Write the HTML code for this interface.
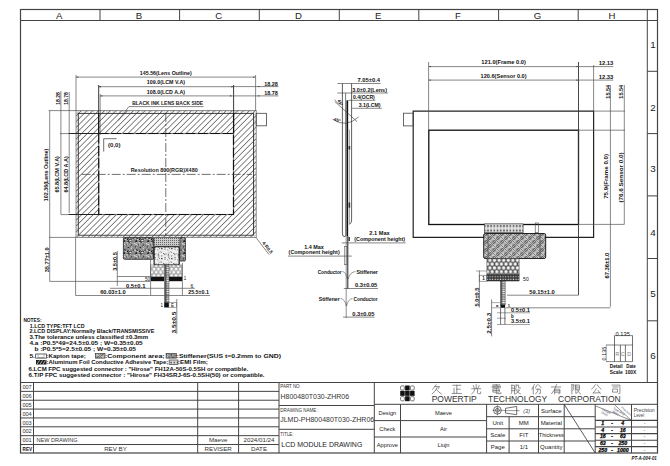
<!DOCTYPE html>
<html><head><meta charset="utf-8"><style>
html,body{margin:0;padding:0;background:#fff;}
svg{display:block;}
</style></head><body>
<svg width="670" height="466" viewBox="0 0 670 466">
<defs><pattern id="hatch" patternUnits="userSpaceOnUse" width="4.1" height="10" patternTransform="rotate(45)"><line x1="0.4" y1="0" x2="0.4" y2="10" stroke="#3a3a3a" stroke-width="0.68"/></pattern><pattern id="granite" patternUnits="userSpaceOnUse" width="12" height="12"><rect width="12" height="12" fill="#8a8a8a"/><rect x="2.9" y="6.5" width="1.0" height="0.9" fill="#1a1a1a"/><rect x="7.5" y="0.8" width="0.6" height="1.1" fill="#1a1a1a"/><rect x="3.1" y="2.8" width="1.8" height="0.8" fill="#1a1a1a"/><rect x="10.0" y="5.7" width="1.4" height="0.6" fill="#1a1a1a"/><rect x="7.6" y="10.4" width="1.2" height="1.0" fill="#1a1a1a"/><rect x="8.1" y="0.8" width="1.5" height="0.9" fill="#1a1a1a"/><rect x="3.6" y="0.4" width="1.6" height="0.8" fill="#1a1a1a"/><rect x="8.6" y="10.5" width="1.5" height="1.1" fill="#1a1a1a"/><rect x="4.7" y="9.6" width="1.1" height="1.2" fill="#1a1a1a"/><rect x="10.5" y="1.2" width="0.8" height="0.7" fill="#1a1a1a"/><rect x="11.6" y="5.2" width="1.4" height="0.7" fill="#1a1a1a"/><rect x="6.1" y="4.6" width="1.0" height="0.9" fill="#1a1a1a"/><rect x="7.0" y="10.9" width="1.4" height="1.2" fill="#1a1a1a"/><rect x="10.3" y="11.9" width="1.4" height="0.6" fill="#1a1a1a"/><rect x="10.3" y="11.6" width="1.7" height="0.9" fill="#1a1a1a"/><rect x="8.6" y="2.5" width="1.6" height="0.9" fill="#1a1a1a"/><rect x="3.4" y="0.8" width="1.6" height="1.2" fill="#1a1a1a"/><rect x="1.1" y="9.6" width="1.1" height="0.6" fill="#1a1a1a"/><rect x="3.5" y="9.2" width="1.6" height="0.5" fill="#1a1a1a"/><rect x="7.4" y="0.5" width="1.5" height="0.7" fill="#1a1a1a"/><rect x="10.6" y="11.8" width="1.2" height="1.2" fill="#1a1a1a"/><rect x="3.7" y="0.9" width="1.3" height="0.5" fill="#1a1a1a"/><rect x="2.4" y="4.9" width="1.3" height="0.6" fill="#1a1a1a"/><rect x="0.5" y="10.4" width="1.0" height="1.2" fill="#1a1a1a"/><rect x="10.8" y="4.5" width="1.2" height="0.9" fill="#1a1a1a"/><rect x="7.7" y="7.1" width="1.3" height="0.9" fill="#1a1a1a"/><rect x="11.3" y="6.1" width="0.9" height="0.8" fill="#e8e8e8"/><rect x="2.9" y="3.6" width="1.5" height="0.7" fill="#e8e8e8"/><rect x="6.6" y="0.1" width="0.9" height="0.7" fill="#e8e8e8"/><rect x="0.2" y="7.4" width="1.1" height="0.4" fill="#e8e8e8"/><rect x="7.5" y="5.6" width="1.2" height="0.6" fill="#e8e8e8"/><rect x="8.5" y="8.9" width="0.5" height="0.4" fill="#e8e8e8"/><rect x="8.1" y="11.6" width="0.8" height="0.7" fill="#e8e8e8"/><rect x="7.1" y="3.8" width="0.9" height="0.6" fill="#e8e8e8"/><rect x="4.4" y="7.1" width="0.8" height="0.6" fill="#e8e8e8"/><rect x="9.3" y="0.3" width="1.1" height="0.8" fill="#e8e8e8"/><rect x="3.7" y="2.7" width="1.3" height="0.5" fill="#e8e8e8"/><rect x="2.2" y="5.2" width="1.2" height="0.5" fill="#e8e8e8"/><rect x="3.9" y="4.0" width="1.3" height="0.7" fill="#e8e8e8"/><rect x="10.3" y="2.0" width="0.8" height="0.8" fill="#e8e8e8"/><rect x="10.6" y="5.4" width="0.7" height="0.5" fill="#e8e8e8"/><rect x="6.4" y="2.3" width="1.3" height="0.9" fill="#e8e8e8"/><rect x="2.2" y="3.3" width="1.3" height="0.8" fill="#e8e8e8"/><rect x="9.7" y="4.1" width="0.6" height="0.6" fill="#e8e8e8"/><rect x="9.5" y="3.3" width="0.8" height="0.7" fill="#e8e8e8"/><rect x="5.0" y="4.9" width="1.4" height="0.5" fill="#e8e8e8"/><rect x="0.1" y="11.3" width="1.4" height="1.0" fill="#e8e8e8"/><rect x="5.2" y="11.4" width="1.4" height="0.5" fill="#e8e8e8"/><rect x="8.9" y="10.0" width="1.2" height="0.7" fill="#e8e8e8"/><rect x="3.5" y="4.1" width="0.7" height="0.4" fill="#e8e8e8"/><rect x="7.1" y="3.4" width="1.3" height="0.4" fill="#e8e8e8"/><rect x="10.8" y="8.3" width="1.4" height="0.9" fill="#e8e8e8"/><rect x="10.8" y="6.9" width="0.5" height="0.8" fill="#e8e8e8"/><rect x="2.1" y="3.6" width="1.2" height="0.7" fill="#e8e8e8"/><rect x="5.0" y="11.3" width="1.1" height="0.6" fill="#e8e8e8"/><rect x="3.0" y="10.3" width="1.0" height="0.9" fill="#e8e8e8"/><rect x="4.2" y="2.4" width="1.0" height="0.9" fill="#e8e8e8"/><rect x="2.1" y="9.5" width="1.4" height="0.9" fill="#e8e8e8"/><rect x="9.9" y="0.1" width="1.1" height="0.9" fill="#e8e8e8"/><rect x="0.6" y="3.3" width="0.8" height="0.7" fill="#e8e8e8"/></pattern><pattern id="speck" patternUnits="userSpaceOnUse" width="10" height="10"><rect width="10" height="10" fill="#eee"/><rect x="4.2" y="4.7" width="1.3" height="0.4" fill="#333"/><rect x="0.5" y="1.3" width="0.6" height="0.4" fill="#333"/><rect x="9.7" y="8.5" width="0.6" height="0.7" fill="#333"/><rect x="3.2" y="3.1" width="0.9" height="0.8" fill="#333"/><rect x="5.9" y="3.6" width="0.7" height="0.6" fill="#333"/><rect x="1.2" y="5.6" width="1.2" height="0.6" fill="#333"/><rect x="0.8" y="1.8" width="0.9" height="0.8" fill="#333"/><rect x="7.8" y="3.8" width="1.3" height="0.8" fill="#333"/><rect x="4.3" y="3.7" width="1.0" height="0.8" fill="#333"/><rect x="4.2" y="6.9" width="1.0" height="0.5" fill="#333"/><rect x="5.4" y="7.0" width="0.6" height="0.7" fill="#333"/><rect x="4.3" y="8.8" width="1.4" height="0.6" fill="#333"/><rect x="9.0" y="7.9" width="0.8" height="0.7" fill="#333"/><rect x="1.2" y="8.1" width="1.2" height="0.9" fill="#333"/><rect x="7.9" y="6.7" width="1.2" height="0.7" fill="#333"/><rect x="1.0" y="5.9" width="0.5" height="0.5" fill="#333"/><rect x="7.7" y="0.4" width="0.6" height="0.5" fill="#333"/><rect x="8.8" y="1.8" width="0.5" height="0.9" fill="#333"/><rect x="1.2" y="8.4" width="1.2" height="0.9" fill="#333"/><rect x="9.5" y="5.8" width="1.3" height="0.4" fill="#333"/><rect x="7.7" y="5.1" width="1.2" height="0.5" fill="#333"/><rect x="7.5" y="9.3" width="0.6" height="0.6" fill="#333"/></pattern><pattern id="dots" patternUnits="userSpaceOnUse" width="2" height="2"><rect width="2" height="2" fill="#ccc"/><rect x="0" y="0" width="1" height="1" fill="#666"/></pattern><pattern id="honey" patternUnits="userSpaceOnUse" width="4.4" height="6.6"><rect width="4.4" height="6.6" fill="#b5b5b5"/><circle cx="2.2" cy="1.65" r="1.75" fill="#ffffff" stroke="#555" stroke-width="0.3"/><circle cx="0" cy="4.95" r="1.75" fill="#ffffff" stroke="#555" stroke-width="0.3"/><circle cx="4.4" cy="4.95" r="1.75" fill="#ffffff" stroke="#555" stroke-width="0.3"/></pattern><pattern id="honey2" patternUnits="userSpaceOnUse" width="4.6" height="7.6"><rect width="4.6" height="7.6" fill="#555"/><circle cx="2.3" cy="1.9" r="1.85" fill="#f6f6f6" stroke="#333" stroke-width="0.3"/><circle cx="0" cy="5.7" r="1.85" fill="#f6f6f6" stroke="#333" stroke-width="0.3"/><circle cx="4.6" cy="5.7" r="1.85" fill="#f6f6f6" stroke="#333" stroke-width="0.3"/></pattern><pattern id="chain" patternUnits="userSpaceOnUse" width="4.6" height="2.2"><rect width="4.6" height="2.2" fill="#555"/><rect x="0.9" y="0.45" width="2.8" height="1.3" fill="#f0f0f0"/></pattern><pattern id="finger" patternUnits="userSpaceOnUse" width="2.6" height="2.6"><rect width="2.6" height="2.6" fill="#333"/><rect x="0.6" y="0.6" width="1.3" height="1.1" fill="#ddd"/></pattern><pattern id="woven" patternUnits="userSpaceOnUse" width="8" height="8"><rect width="8" height="8" fill="#ababab"/><path d="M0,1.3 L2.7,4 M1.3,0 L4,2.7 M4,6.7 L5.3,8 M4,5.3 L6.7,8 M5.3,4 L8,6.7 M6.7,4 L8,5.3" stroke="#eaeaea" stroke-width="0.7" fill="none"/><path d="M4,2.7 L6.7,0 M5.3,4 L8,1.3 M0,6.7 L2.7,4 M1.3,8 L4,5.3 M0,4 L0,4" stroke="#2a2a2a" stroke-width="0.8" fill="none"/><path d="M0,0 L8,8" stroke="#444" stroke-width="0.4" fill="none"/></pattern><pattern id="conn" patternUnits="userSpaceOnUse" width="3.2" height="4.4"><rect width="3.2" height="4.4" fill="#e4e4e4"/><rect x="0.6" y="0.8" width="1.8" height="1.6" fill="#555"/><rect x="0.9" y="3" width="1.2" height="0.8" fill="#999"/></pattern></defs>
<rect width="670" height="466" fill="#fff"/>
<rect x="20.5" y="9.5" width="637" height="443.5" stroke="#444" stroke-width="1.2" fill="none" />
<line x1="20" y1="20.5" x2="658" y2="20.5" stroke="#444" stroke-width="1" />
<line x1="100" y1="9.5" x2="100" y2="20.5" stroke="#444" stroke-width="1" />
<line x1="179.6" y1="9.5" x2="179.6" y2="20.5" stroke="#444" stroke-width="1" />
<line x1="259.3" y1="9.5" x2="259.3" y2="20.5" stroke="#444" stroke-width="1" />
<line x1="339.3" y1="9.5" x2="339.3" y2="20.5" stroke="#444" stroke-width="1" />
<line x1="418.8" y1="9.5" x2="418.8" y2="20.5" stroke="#444" stroke-width="1" />
<line x1="498.6" y1="9.5" x2="498.6" y2="20.5" stroke="#444" stroke-width="1" />
<line x1="578.2" y1="9.5" x2="578.2" y2="20.5" stroke="#444" stroke-width="1" />
<line x1="647.3" y1="9.5" x2="647.3" y2="382.5" stroke="#444" stroke-width="1" />
<line x1="647.3" y1="71.3" x2="658" y2="71.3" stroke="#444" stroke-width="1" />
<line x1="647.3" y1="133.6" x2="658" y2="133.6" stroke="#444" stroke-width="1" />
<line x1="647.3" y1="195.9" x2="658" y2="195.9" stroke="#444" stroke-width="1" />
<line x1="647.3" y1="258.5" x2="658" y2="258.5" stroke="#444" stroke-width="1" />
<line x1="647.3" y1="320.8" x2="658" y2="320.8" stroke="#444" stroke-width="1" />
<text x="59.2" y="18.6" font-family="Liberation Sans" font-size="9.6" font-weight="normal" fill="#222" text-anchor="middle" >A</text>
<text x="139.0" y="18.6" font-family="Liberation Sans" font-size="9.6" font-weight="normal" fill="#222" text-anchor="middle" >B</text>
<text x="218.64999999999998" y="18.6" font-family="Liberation Sans" font-size="9.6" font-weight="normal" fill="#222" text-anchor="middle" >C</text>
<text x="298.5" y="18.6" font-family="Liberation Sans" font-size="9.6" font-weight="normal" fill="#222" text-anchor="middle" >D</text>
<text x="378.25" y="18.6" font-family="Liberation Sans" font-size="9.6" font-weight="normal" fill="#222" text-anchor="middle" >E</text>
<text x="457.90000000000003" y="18.6" font-family="Liberation Sans" font-size="9.6" font-weight="normal" fill="#222" text-anchor="middle" >F</text>
<text x="537.6000000000001" y="18.6" font-family="Liberation Sans" font-size="9.6" font-weight="normal" fill="#222" text-anchor="middle" >G</text>
<text x="611.95" y="18.6" font-family="Liberation Sans" font-size="9.6" font-weight="normal" fill="#222" text-anchor="middle" >H</text>
<text x="653" y="48.3" font-family="Liberation Sans" font-size="9.8" font-weight="normal" fill="#222" text-anchor="middle" >1</text>
<text x="653" y="110.8" font-family="Liberation Sans" font-size="9.8" font-weight="normal" fill="#222" text-anchor="middle" >2</text>
<text x="653" y="172.4" font-family="Liberation Sans" font-size="9.8" font-weight="normal" fill="#222" text-anchor="middle" >3</text>
<text x="653" y="236.4" font-family="Liberation Sans" font-size="9.8" font-weight="normal" fill="#222" text-anchor="middle" >4</text>
<text x="653" y="296.5" font-family="Liberation Sans" font-size="9.8" font-weight="normal" fill="#222" text-anchor="middle" >5</text>
<text x="653" y="358.7" font-family="Liberation Sans" font-size="9.8" font-weight="normal" fill="#222" text-anchor="middle" >6</text>
<line x1="20" y1="382.5" x2="658" y2="382.5" stroke="#444" stroke-width="1.1" />
<line x1="20" y1="391.36" x2="279" y2="391.36" stroke="#444" stroke-width="1" />
<line x1="20" y1="400.22" x2="279" y2="400.22" stroke="#444" stroke-width="1" />
<line x1="20" y1="409.08" x2="279" y2="409.08" stroke="#444" stroke-width="1" />
<line x1="20" y1="417.94" x2="279" y2="417.94" stroke="#444" stroke-width="1" />
<line x1="20" y1="426.8" x2="279" y2="426.8" stroke="#444" stroke-width="1" />
<line x1="20" y1="435.65999999999997" x2="279" y2="435.65999999999997" stroke="#444" stroke-width="1" />
<line x1="20" y1="444.52" x2="279" y2="444.52" stroke="#444" stroke-width="1" />
<line x1="33.5" y1="382.5" x2="33.5" y2="453" stroke="#444" stroke-width="1" />
<line x1="197.7" y1="382.5" x2="197.7" y2="453" stroke="#444" stroke-width="1" />
<line x1="238.6" y1="382.5" x2="238.6" y2="453" stroke="#444" stroke-width="1" />
<line x1="279" y1="382.5" x2="279" y2="453" stroke="#444" stroke-width="1" />
<text x="22.4" y="389.1" font-family="Liberation Sans" font-size="6.2" font-weight="normal" fill="#333" text-anchor="start" textLength="9.3" lengthAdjust="spacingAndGlyphs" >007</text>
<text x="22.4" y="397.96000000000004" font-family="Liberation Sans" font-size="6.2" font-weight="normal" fill="#333" text-anchor="start" textLength="9.3" lengthAdjust="spacingAndGlyphs" >006</text>
<text x="22.4" y="406.82000000000005" font-family="Liberation Sans" font-size="6.2" font-weight="normal" fill="#333" text-anchor="start" textLength="9.3" lengthAdjust="spacingAndGlyphs" >005</text>
<text x="22.4" y="415.68" font-family="Liberation Sans" font-size="6.2" font-weight="normal" fill="#333" text-anchor="start" textLength="9.3" lengthAdjust="spacingAndGlyphs" >004</text>
<text x="22.4" y="424.54" font-family="Liberation Sans" font-size="6.2" font-weight="normal" fill="#333" text-anchor="start" textLength="9.3" lengthAdjust="spacingAndGlyphs" >003</text>
<text x="22.4" y="433.40000000000003" font-family="Liberation Sans" font-size="6.2" font-weight="normal" fill="#333" text-anchor="start" textLength="9.3" lengthAdjust="spacingAndGlyphs" >002</text>
<text x="22.4" y="442.26" font-family="Liberation Sans" font-size="6.2" font-weight="normal" fill="#333" text-anchor="start" textLength="9.3" lengthAdjust="spacingAndGlyphs" >001</text>
<text x="22.6" y="451.12" font-family="Liberation Sans" font-size="6" font-weight="bold" fill="#111" text-anchor="start" textLength="9.5" lengthAdjust="spacingAndGlyphs" >REV</text>
<text x="36.5" y="442.26" font-family="Liberation Sans" font-size="6.2" font-weight="normal" fill="#333" text-anchor="start" textLength="41" lengthAdjust="spacingAndGlyphs" >NEW DRAWING</text>
<text x="218.2" y="442.26" font-family="Liberation Sans" font-size="6.2" font-weight="normal" fill="#333" text-anchor="middle" >Maeve</text>
<text x="259" y="442.26" font-family="Liberation Sans" font-size="6.2" font-weight="normal" fill="#333" text-anchor="middle" >2024/01/24</text>
<text x="115.5" y="451.12" font-family="Liberation Sans" font-size="6.2" font-weight="normal" fill="#333" text-anchor="middle" >REV BY</text>
<text x="218.2" y="451.12" font-family="Liberation Sans" font-size="6.2" font-weight="normal" fill="#333" text-anchor="middle" >REVISER</text>
<text x="259" y="451.12" font-family="Liberation Sans" font-size="6.2" font-weight="normal" fill="#333" text-anchor="middle" >DATE</text>
<line x1="374.3" y1="382.5" x2="374.3" y2="453" stroke="#444" stroke-width="1" />
<line x1="279" y1="405.5" x2="374.3" y2="405.5" stroke="#444" stroke-width="1" />
<line x1="279" y1="429.3" x2="374.3" y2="429.3" stroke="#444" stroke-width="1" />
<text x="280.3" y="387.9" font-family="Liberation Sans" font-size="4.8" font-weight="normal" fill="#333" text-anchor="start" textLength="20.5" lengthAdjust="spacingAndGlyphs" >PART NO:</text>
<text x="280.6" y="399" font-family="Liberation Sans" font-size="7" font-weight="normal" fill="#333" text-anchor="start" textLength="68.5" lengthAdjust="spacingAndGlyphs" >H800480T030-ZHR06</text>
<text x="280.3" y="411.6" font-family="Liberation Sans" font-size="4.8" font-weight="normal" fill="#333" text-anchor="start" textLength="38.5" lengthAdjust="spacingAndGlyphs" >DRAWING NAME :</text>
<text x="280.2" y="422" font-family="Liberation Sans" font-size="7" font-weight="normal" fill="#333" text-anchor="start" textLength="94" lengthAdjust="spacingAndGlyphs" >JLMD-PH800480T030-ZHR06</text>
<text x="280.3" y="435.6" font-family="Liberation Sans" font-size="4.8" font-weight="normal" fill="#333" text-anchor="start" textLength="13.2" lengthAdjust="spacingAndGlyphs" >TITLE:</text>
<text x="281.3" y="447.2" font-family="Liberation Sans" font-size="7.2" font-weight="normal" fill="#222" text-anchor="start" textLength="81" lengthAdjust="spacingAndGlyphs" >LCD MODULE DRAWING</text>
<line x1="374.3" y1="404.3" x2="658" y2="404.3" stroke="#444" stroke-width="1" />
<rect x="400.6" y="385.90000000000003" width="3.7299999999999995" height="4.17" stroke="#444" stroke-width="0.7" fill="none" rx="1"/>
<rect x="405.13" y="385.5" width="4.529999999999999" height="4.97" fill="#111"/>
<rect x="410.46000000000004" y="385.90000000000003" width="3.7299999999999995" height="4.17" stroke="#444" stroke-width="0.7" fill="none" rx="1"/>
<rect x="400.2" y="390.87" width="4.529999999999999" height="4.97" fill="#111"/>
<rect x="405.13" y="390.87" width="4.529999999999999" height="4.97" fill="#111"/>
<rect x="410.06" y="390.87" width="4.529999999999999" height="4.97" fill="#111"/>
<rect x="400.6" y="396.64000000000004" width="3.7299999999999995" height="4.17" stroke="#444" stroke-width="0.7" fill="none" rx="1"/>
<rect x="405.13" y="396.24" width="4.529999999999999" height="4.97" fill="#111"/>
<rect x="410.46000000000004" y="396.64000000000004" width="3.7299999999999995" height="4.17" stroke="#444" stroke-width="0.7" fill="none" rx="1"/>
<text x="431.7" y="402.3" font-family="Liberation Sans" font-size="9.6" font-weight="normal" fill="#333" text-anchor="start" textLength="45" lengthAdjust="spacingAndGlyphs" >POWERTIP</text>
<text x="488" y="402.3" font-family="Liberation Sans" font-size="9.6" font-weight="normal" fill="#333" text-anchor="start" textLength="59.2" lengthAdjust="spacingAndGlyphs" >TECHNOLOGY</text>
<text x="558" y="402.3" font-family="Liberation Sans" font-size="9.6" font-weight="normal" fill="#333" text-anchor="start" textLength="62.7" lengthAdjust="spacingAndGlyphs" >CORPORATION</text>
<path d="M4.5,0.5 L1,5 M3,2.3 H8 L6.5,4.5 M5.5,3.5 Q4,7.5 0.5,9.8 M5,5.5 Q7,8 9.8,9.8" transform="translate(431.7,384.3) scale(0.98)" fill="none" stroke="#6a6a6a" stroke-width="0.75" stroke-linecap="square"/>
<path d="M1,1 H9 M5,1 V9.3 M5,5 H8.5 M2.2,4 V9.3 M0.3,9.3 H9.7" transform="translate(451.9,384.3) scale(0.98)" fill="none" stroke="#6a6a6a" stroke-width="0.75" stroke-linecap="square"/>
<path d="M5,0.3 V4.3 M2,1.2 L3,3.5 M8,1.2 L7,3.5 M0.5,4.5 H9.5 M3.8,4.5 Q3.5,8 0.5,9.8 M6.3,4.5 V8.8 Q6.3,9.5 7.3,9.5 H9.5 V8" transform="translate(471.3,384.3) scale(0.98)" fill="none" stroke="#6a6a6a" stroke-width="0.75" stroke-linecap="square"/>
<path d="M1.5,0.6 H8.5 M5,0.3 V4 M0.8,3.3 V1.8 H9.2 V3.3 M2.2,2.5 H3.8 M6.2,2.5 H7.8 M2.2,3.5 H3.8 M6.2,3.5 H7.8 M2,4.6 H8 V8 H2 Z M2,6.3 H8 M5,4.6 V9.5 H9.7 V8.5" transform="translate(491.4,384.3) scale(0.98)" fill="none" stroke="#6a6a6a" stroke-width="0.75" stroke-linecap="square"/>
<path d="M1,1 V8 Q1,9.5 0.3,9.8 M1,1 H3.8 V9.8 M1,4 H3.8 M1,6.5 H3.8 M5.5,0.8 V3 Q5.5,4.3 4.6,4.8 M5.5,0.8 H8 V3.8 H9.8 M5,5.8 H9 Q7.5,8.5 4.7,9.8 M6,6.8 Q7.5,9 9.8,9.8" transform="translate(510.8,384.3) scale(0.98)" fill="none" stroke="#6a6a6a" stroke-width="0.75" stroke-linecap="square"/>
<path d="M3,0.3 L0.4,5 M1.8,3 V9.8 M5.8,0.5 L4,3.5 M7.2,0.5 L9.8,3.5 M4.8,5 H9 V9.3 Q9,9.8 8,9.5 M6.8,5 Q6.5,8.3 4.2,9.8" transform="translate(531.5,384.3) scale(0.98)" fill="none" stroke="#6a6a6a" stroke-width="0.75" stroke-linecap="square"/>
<path d="M0.3,2.7 H9.7 M5.5,0.3 Q4,5.5 0.5,9.5 M3.5,5 V9.8 M3.5,5 H8.8 V9.3 Q8.8,9.8 7.8,9.6 M3.5,6.6 H8.8 M3.5,8.1 H8.8" transform="translate(551.2,384.3) scale(0.98)" fill="none" stroke="#6a6a6a" stroke-width="0.75" stroke-linecap="square"/>
<path d="M1,0.5 V9.8 M1,0.5 H3.3 L2.2,3.5 Q3.8,5.5 2,6.5 M5,0.8 H8.7 V5 H5 Z M5,2.9 H8.7 M5,0.8 V9.3 L6.5,8.5 M6.5,5.5 Q7.5,8.5 9.8,9.8 M9,5.5 L7.5,6.8" transform="translate(570.9,384.3) scale(0.98)" fill="none" stroke="#6a6a6a" stroke-width="0.75" stroke-linecap="square"/>
<path d="M4,0.5 Q3,3 0.3,4.8 M6,0.5 Q7,3 9.7,4.8 M5,4.5 Q3.5,7.5 1.5,9 L8.5,8.5 M6.8,6.3 L9,9.2" transform="translate(591.4,384.3) scale(0.98)" fill="none" stroke="#6a6a6a" stroke-width="0.75" stroke-linecap="square"/>
<path d="M1,0.8 H9 V9.3 Q9,9.8 7.8,9.5 M2,2.7 H7 M2,4.8 H6.5 V8 H2 Z" transform="translate(611.1,384.3) scale(0.98)" fill="none" stroke="#6a6a6a" stroke-width="0.75" stroke-linecap="square"/>
<line x1="400.5" y1="404.3" x2="400.5" y2="453" stroke="#444" stroke-width="1" />
<line x1="486.6" y1="404.3" x2="486.6" y2="453" stroke="#444" stroke-width="1" />
<line x1="374.3" y1="420.6" x2="486.6" y2="420.6" stroke="#444" stroke-width="1" />
<line x1="374.3" y1="437" x2="486.6" y2="437" stroke="#444" stroke-width="1" />
<text x="387.4" y="414.9" font-family="Liberation Sans" font-size="5.7" font-weight="normal" fill="#222" text-anchor="middle" >Design</text>
<text x="443.5" y="414.9" font-family="Liberation Sans" font-size="5.7" font-weight="normal" fill="#222" text-anchor="middle" >Maeve</text>
<text x="387.4" y="431" font-family="Liberation Sans" font-size="5.7" font-weight="normal" fill="#222" text-anchor="middle" >Check</text>
<text x="443.5" y="431" font-family="Liberation Sans" font-size="5.7" font-weight="normal" fill="#222" text-anchor="middle" >Air</text>
<text x="387.4" y="447.3" font-family="Liberation Sans" font-size="5.7" font-weight="normal" fill="#222" text-anchor="middle" >Approve</text>
<text x="443.5" y="447.3" font-family="Liberation Sans" font-size="5.7" font-weight="normal" fill="#222" text-anchor="middle" >Liujn</text>
<line x1="509.1" y1="416.7" x2="509.1" y2="453" stroke="#444" stroke-width="1" />
<line x1="538.5" y1="404.3" x2="538.5" y2="453" stroke="#444" stroke-width="1" />
<line x1="564.2" y1="404.3" x2="564.2" y2="453" stroke="#444" stroke-width="1" />
<line x1="595.2" y1="404.3" x2="595.2" y2="453" stroke="#444" stroke-width="1" />
<line x1="486.6" y1="416.7" x2="595.2" y2="416.7" stroke="#444" stroke-width="1" />
<line x1="486.6" y1="428.8" x2="595.2" y2="428.8" stroke="#444" stroke-width="1" />
<line x1="486.6" y1="441" x2="595.2" y2="441" stroke="#444" stroke-width="1" />
<line x1="564.2" y1="404.3" x2="595.2" y2="453" stroke="#333" stroke-width="0.8" />
<text x="497.8" y="424.5" font-family="Liberation Sans" font-size="6" font-weight="normal" fill="#222" text-anchor="middle" >Unit</text>
<text x="523.8" y="424.5" font-family="Liberation Sans" font-size="6" font-weight="normal" fill="#222" text-anchor="middle" >MM</text>
<text x="551.3" y="424.5" font-family="Liberation Sans" font-size="6" font-weight="normal" fill="#222" text-anchor="middle" >Material</text>
<text x="497.8" y="436.9" font-family="Liberation Sans" font-size="6" font-weight="normal" fill="#222" text-anchor="middle" >Scale</text>
<text x="523.8" y="436.9" font-family="Liberation Sans" font-size="6" font-weight="normal" fill="#222" text-anchor="middle" >FIT</text>
<text x="551.3" y="436.9" font-family="Liberation Sans" font-size="6" font-weight="normal" fill="#222" text-anchor="middle" textLength="25" lengthAdjust="spacingAndGlyphs" >Thickness</text>
<text x="497.8" y="449.20000000000005" font-family="Liberation Sans" font-size="6" font-weight="normal" fill="#222" text-anchor="middle" >Page</text>
<text x="523.8" y="449.20000000000005" font-family="Liberation Sans" font-size="6" font-weight="normal" fill="#222" text-anchor="middle" >1/1</text>
<text x="551.3" y="449.20000000000005" font-family="Liberation Sans" font-size="6" font-weight="normal" fill="#222" text-anchor="middle" >Quantity</text>
<text x="551.3" y="412.8" font-family="Liberation Sans" font-size="6" font-weight="normal" fill="#222" text-anchor="middle" >Surface</text>
<circle cx="497.4" cy="410.3" r="3.9" fill="none" stroke="#333" stroke-width="0.7"/>
<circle cx="497.4" cy="410.3" r="1.9" fill="none" stroke="#333" stroke-width="0.7"/>
<line x1="492.5" y1="410.3" x2="503.5" y2="410.3" stroke="#333" stroke-width="0.5" />
<line x1="497.4" y1="405.2" x2="497.4" y2="415.4" stroke="#333" stroke-width="0.5" />
<path d="M505.5 408.3 L516.7 406.5 L516.7 414.7 L505.5 413 Z" fill="none" stroke="#333" stroke-width="0.7"/>
<line x1="503.5" y1="410.6" x2="519.5" y2="410.6" stroke="#333" stroke-width="0.5" />
<text x="523.2" y="412.7" font-family="Liberation Sans" font-size="6" font-weight="normal" fill="#444" text-anchor="start" textLength="6.8" lengthAdjust="spacingAndGlyphs" font-style="italic">(3)</text>
<line x1="631.5" y1="404.3" x2="631.5" y2="453" stroke="#444" stroke-width="1" />
<line x1="595.2" y1="420.4" x2="658" y2="420.4" stroke="#444" stroke-width="1.1" />
<line x1="595.2" y1="427" x2="658" y2="427" stroke="#444" stroke-width="1.1" />
<line x1="595.2" y1="433.6" x2="658" y2="433.6" stroke="#444" stroke-width="1.1" />
<line x1="595.2" y1="440.2" x2="658" y2="440.2" stroke="#444" stroke-width="1.1" />
<line x1="595.2" y1="446.6" x2="658" y2="446.6" stroke="#444" stroke-width="1.1" />
<line x1="595.8" y1="406" x2="631.3" y2="420.4" stroke="#444" stroke-width="0.6" />
<line x1="614.3" y1="404.5" x2="631.3" y2="420.4" stroke="#444" stroke-width="0.6" />
<text x="602" y="410" font-family="Liberation Sans" font-size="3" font-weight="normal" fill="#445" text-anchor="start" transform="rotate(28 602 410)" >Length</text>
<text x="613" y="409" font-family="Liberation Sans" font-size="3" font-weight="normal" fill="#445" text-anchor="start" transform="rotate(30 613 409)" >Tolerance</text>
<text x="601" y="413" font-family="Liberation Sans" font-size="3" font-weight="normal" fill="#445" text-anchor="start" transform="rotate(28 601 413)" >(mm)</text>
<text x="612" y="412" font-family="Liberation Sans" font-size="3" font-weight="normal" fill="#445" text-anchor="start" transform="rotate(30 612 412)" >(Mm)</text>
<text x="621" y="408" font-family="Liberation Sans" font-size="3" font-weight="normal" fill="#445" text-anchor="start" transform="rotate(40 621 408)" >Precision</text>
<text x="602.8" y="425.4" font-family="Liberation Sans" font-size="5.2" font-weight="bold" fill="#000" text-anchor="middle" font-style="italic" stroke="#000" stroke-width="0.25">1</text>
<text x="612" y="425.4" font-family="Liberation Sans" font-size="5.2" font-weight="bold" fill="#000" text-anchor="middle" stroke="#000" stroke-width="0.25">-</text>
<text x="622.8" y="425.4" font-family="Liberation Sans" font-size="5.2" font-weight="bold" fill="#000" text-anchor="middle" font-style="italic" stroke="#000" stroke-width="0.25">4</text>
<text x="644.5" y="425.4" font-family="Liberation Sans" font-size="5" font-weight="normal" fill="#444" text-anchor="middle" >-</text>
<text x="602.8" y="431.9" font-family="Liberation Sans" font-size="5.2" font-weight="bold" fill="#000" text-anchor="middle" font-style="italic" stroke="#000" stroke-width="0.25">4</text>
<text x="612" y="431.9" font-family="Liberation Sans" font-size="5.2" font-weight="bold" fill="#000" text-anchor="middle" stroke="#000" stroke-width="0.25">-</text>
<text x="622.8" y="431.9" font-family="Liberation Sans" font-size="5.2" font-weight="bold" fill="#000" text-anchor="middle" font-style="italic" stroke="#000" stroke-width="0.25">16</text>
<text x="644.5" y="431.9" font-family="Liberation Sans" font-size="5" font-weight="normal" fill="#444" text-anchor="middle" >-</text>
<text x="602.8" y="438.4" font-family="Liberation Sans" font-size="5.2" font-weight="bold" fill="#000" text-anchor="middle" font-style="italic" stroke="#000" stroke-width="0.25">16</text>
<text x="612" y="438.4" font-family="Liberation Sans" font-size="5.2" font-weight="bold" fill="#000" text-anchor="middle" stroke="#000" stroke-width="0.25">-</text>
<text x="622.8" y="438.4" font-family="Liberation Sans" font-size="5.2" font-weight="bold" fill="#000" text-anchor="middle" font-style="italic" stroke="#000" stroke-width="0.25">63</text>
<text x="644.5" y="438.4" font-family="Liberation Sans" font-size="5" font-weight="normal" fill="#444" text-anchor="middle" >-</text>
<text x="602.8" y="444.9" font-family="Liberation Sans" font-size="5.2" font-weight="bold" fill="#000" text-anchor="middle" font-style="italic" stroke="#000" stroke-width="0.25">63</text>
<text x="612" y="444.9" font-family="Liberation Sans" font-size="5.2" font-weight="bold" fill="#000" text-anchor="middle" stroke="#000" stroke-width="0.25">-</text>
<text x="622.8" y="444.9" font-family="Liberation Sans" font-size="5.2" font-weight="bold" fill="#000" text-anchor="middle" font-style="italic" stroke="#000" stroke-width="0.25">250</text>
<text x="644.5" y="444.9" font-family="Liberation Sans" font-size="5" font-weight="normal" fill="#444" text-anchor="middle" >-</text>
<text x="602.8" y="451.6" font-family="Liberation Sans" font-size="5.2" font-weight="bold" fill="#000" text-anchor="middle" font-style="italic" stroke="#000" stroke-width="0.25">250</text>
<text x="612" y="451.6" font-family="Liberation Sans" font-size="5.2" font-weight="bold" fill="#000" text-anchor="middle" stroke="#000" stroke-width="0.25">-</text>
<text x="622.8" y="451.6" font-family="Liberation Sans" font-size="5.2" font-weight="bold" fill="#000" text-anchor="middle" font-style="italic" stroke="#000" stroke-width="0.25">1000</text>
<text x="644.5" y="451.6" font-family="Liberation Sans" font-size="5" font-weight="normal" fill="#444" text-anchor="middle" >-</text>
<text x="631.6" y="460.3" font-family="Liberation Sans" font-size="5.2" font-weight="bold" fill="#111" text-anchor="start" textLength="25.2" lengthAdjust="spacingAndGlyphs" font-style="italic">PT-A-004-01</text>
<text x="633.7" y="411.6" font-family="Liberation Sans" font-size="6.2" font-weight="normal" fill="#444" text-anchor="start" textLength="21" lengthAdjust="spacingAndGlyphs" >Precision</text>
<text x="633.7" y="416.6" font-family="Liberation Sans" font-size="6.2" font-weight="normal" fill="#444" text-anchor="start" textLength="10.5" lengthAdjust="spacingAndGlyphs" >Level</text>
<path d="M76,110.6 H256.2 V237.4 H76 Z M98.7,133.5 V214.5 H233.5 V133.5 Z" fill="url(#hatch)" fill-rule="evenodd"/>
<rect x="76" y="110.6" width="180.2" height="126.8" stroke="#666" stroke-width="0.7" fill="none" />
<rect x="78.3" y="113.4" width="175.2" height="121.8" stroke="#2a2a2a" stroke-width="0.85" fill="none" />
<rect x="98.7" y="133.5" width="134.8" height="81" stroke="#777" stroke-width="1.15" fill="none" />
<rect x="98.7" y="133.5" width="134.8" height="81" stroke="#111" stroke-width="1.15" fill="none" stroke-dasharray="10,2.4"/>
<rect x="77.1" y="111.9" width="177.8" height="124.2" stroke="#777" stroke-width="0.5" fill="none" stroke-dasharray="2,1.2"/>
<line x1="81.7" y1="174.4" x2="252" y2="174.4" stroke="#333" stroke-width="0.7" stroke-dasharray="9,2,2,2"/>
<line x1="165.8" y1="113" x2="165.8" y2="236" stroke="#333" stroke-width="0.7" stroke-dasharray="9,2,2,2"/>
<path d="M103.7,151.6 V138.7 H116.6" fill="none" stroke="#333" stroke-width="0.7"/>
<text x="108" y="146.8" font-family="Liberation Sans" font-size="5.4" font-weight="bold" fill="#222" text-anchor="start" textLength="12.5" lengthAdjust="spacingAndGlyphs" >(0,0)</text>
<text x="130.7" y="172.3" font-family="Liberation Sans" font-size="5.2" font-weight="bold" fill="#222" text-anchor="start" textLength="67" lengthAdjust="spacingAndGlyphs" >Resolution  800(RGB)X480</text>
<line x1="76" y1="77.1" x2="255.5" y2="77.1" stroke="#555" stroke-width="0.7" />
<polygon points="76,77.1 78.2,76.39999999999999 78.2,77.8" fill="#333"/>
<polygon points="255.5,77.1 253.3,76.39999999999999 253.3,77.8" fill="#333"/>
<line x1="76" y1="75" x2="76" y2="110.6" stroke="#555" stroke-width="0.7" />
<line x1="255.6" y1="75" x2="255.6" y2="110.6" stroke="#555" stroke-width="0.7" />
<text x="165.8" y="75.3" font-family="Liberation Sans" font-size="5.2" font-weight="bold" fill="#111" text-anchor="middle" textLength="52" lengthAdjust="spacingAndGlyphs" >145.56(Lens Outline)</text>
<line x1="98.7" y1="86.7" x2="233.6" y2="86.7" stroke="#555" stroke-width="0.7" />
<polygon points="98.7,86.7 100.9,86.0 100.9,87.4" fill="#333"/>
<polygon points="233.6,86.7 231.4,86.0 231.4,87.4" fill="#333"/>
<line x1="98.7" y1="85" x2="98.7" y2="113" stroke="#222" stroke-width="0.9" />
<line x1="233.6" y1="85" x2="233.6" y2="113" stroke="#222" stroke-width="0.9" />
<line x1="98.7" y1="113" x2="98.7" y2="133.5" stroke="#111" stroke-width="1.3" />
<line x1="233.6" y1="113" x2="233.6" y2="133.5" stroke="#111" stroke-width="1.3" />
<text x="166" y="84.2" font-family="Liberation Sans" font-size="5.2" font-weight="bold" fill="#111" text-anchor="middle" textLength="38.3" lengthAdjust="spacingAndGlyphs" >109.0(LCM V.A)</text>
<line x1="100.2" y1="95.9" x2="232.2" y2="95.9" stroke="#555" stroke-width="0.7" />
<polygon points="100.2,95.9 102.4,95.2 102.4,96.60000000000001" fill="#333"/>
<polygon points="232.2,95.9 230.0,95.2 230.0,96.60000000000001" fill="#333"/>
<line x1="100.2" y1="94" x2="100.2" y2="134.9" stroke="#444" stroke-width="0.6" />
<text x="166" y="93.6" font-family="Liberation Sans" font-size="5.2" font-weight="bold" fill="#111" text-anchor="middle" textLength="38.3" lengthAdjust="spacingAndGlyphs" >108.0(LCD A.A)</text>
<line x1="233.6" y1="86.6" x2="278.5" y2="86.6" stroke="#555" stroke-width="0.7" />
<polygon points="257.2,86.6 259.4,85.89999999999999 259.4,87.3" fill="#333"/>
<text x="264.3" y="85.9" font-family="Liberation Sans" font-size="5.2" font-weight="bold" fill="#111" text-anchor="start" textLength="13.6" lengthAdjust="spacingAndGlyphs" >18.28</text>
<line x1="232.2" y1="95.9" x2="278.5" y2="95.9" stroke="#555" stroke-width="0.7" />
<polygon points="257.2,95.9 259.4,95.2 259.4,96.60000000000001" fill="#333"/>
<text x="264.3" y="95.1" font-family="Liberation Sans" font-size="5.2" font-weight="bold" fill="#111" text-anchor="start" textLength="13.6" lengthAdjust="spacingAndGlyphs" >18.78</text>
<rect x="256.2" y="113.3" width="10.2" height="12.5" stroke="#444" stroke-width="0.8" fill="none" />
<text x="132.2" y="105.4" font-family="Liberation Sans" font-size="5.2" font-weight="bold" fill="#222" text-anchor="start" textLength="71" lengthAdjust="spacingAndGlyphs" >BLACK  INK  LENS  BACK  SIDE</text>
<line x1="128.9" y1="106.6" x2="203.6" y2="106.6" stroke="#333" stroke-width="0.6" />
<line x1="128.9" y1="106.6" x2="118.2" y2="120.5" stroke="#333" stroke-width="0.6" />
<line x1="256" y1="237.6" x2="269" y2="254.5" stroke="#333" stroke-width="0.6" />
<text x="262" y="243" font-family="Liberation Sans" font-size="4.6" font-weight="bold" fill="#111" text-anchor="start" textLength="14" lengthAdjust="spacingAndGlyphs" transform="rotate(52 262 243)" >4-R0.5</text>
<line x1="48.6" y1="110.6" x2="76" y2="110.6" stroke="#555" stroke-width="0.7" />
<line x1="60" y1="133.6" x2="68.4" y2="133.6" stroke="#555" stroke-width="0.7" />
<line x1="68.4" y1="133.5" x2="98.7" y2="133.5" stroke="#222" stroke-width="1.0" />
<line x1="61" y1="214.6" x2="68.4" y2="214.6" stroke="#555" stroke-width="0.7" />
<line x1="68.4" y1="214.5" x2="98.7" y2="214.5" stroke="#222" stroke-width="1.0" />
<line x1="49.7" y1="110.6" x2="49.7" y2="281.4" stroke="#555" stroke-width="0.7" />
<line x1="60.9" y1="91" x2="60.9" y2="214.6" stroke="#555" stroke-width="0.7" />
<line x1="69.2" y1="92" x2="69.2" y2="213" stroke="#555" stroke-width="0.7" />
<line x1="49" y1="237.4" x2="76" y2="237.4" stroke="#555" stroke-width="0.7" />
<line x1="49.7" y1="281.4" x2="150" y2="281.4" stroke="#555" stroke-width="0.7" />
<line x1="75.6" y1="237.4" x2="75.6" y2="295.5" stroke="#555" stroke-width="0.7" />
<line x1="75.6" y1="295.5" x2="149.6" y2="295.5" stroke="#555" stroke-width="0.7" />
<text x="47.9" y="174.9" font-family="Liberation Sans" font-size="5.2" font-weight="bold" fill="#111" text-anchor="middle" textLength="52.6" lengthAdjust="spacingAndGlyphs" transform="rotate(-90 47.9 174.9)" >102.36(Lens Outline)</text>
<text x="59.4" y="174.3" font-family="Liberation Sans" font-size="5.2" font-weight="bold" fill="#111" text-anchor="middle" textLength="36.5" lengthAdjust="spacingAndGlyphs" transform="rotate(-90 59.4 174.3)" >65.8(LCM V.A)</text>
<text x="67.7" y="174.3" font-family="Liberation Sans" font-size="5.2" font-weight="bold" fill="#111" text-anchor="middle" textLength="36.5" lengthAdjust="spacingAndGlyphs" transform="rotate(-90 67.7 174.3)" >64.8(LCD A.A)</text>
<text x="59.9" y="98.4" font-family="Liberation Sans" font-size="5.2" font-weight="bold" fill="#111" text-anchor="middle" textLength="12.6" lengthAdjust="spacingAndGlyphs" transform="rotate(-90 59.9 98.4)" >18.28</text>
<text x="68.2" y="98.4" font-family="Liberation Sans" font-size="5.2" font-weight="bold" fill="#111" text-anchor="middle" textLength="12.6" lengthAdjust="spacingAndGlyphs" transform="rotate(-90 68.2 98.4)" >18.78</text>
<text x="49.1" y="259.8" font-family="Liberation Sans" font-size="5.2" font-weight="bold" fill="#111" text-anchor="middle" textLength="25" lengthAdjust="spacingAndGlyphs" transform="rotate(-90 49.1 259.8)" >35.77±1.0</text>
<text x="100.2" y="293.6" font-family="Liberation Sans" font-size="5.2" font-weight="bold" fill="#111" text-anchor="start" textLength="25.4" lengthAdjust="spacingAndGlyphs" >60.03±1.0</text>
<rect x="123.4" y="237.7" width="30.2" height="21.6" rx="1.2" fill="url(#granite)" stroke="#222" stroke-width="0.8"/>
<rect x="179.8" y="237.7" width="5.6" height="23.3" rx="1" fill="url(#granite)" stroke="#222" stroke-width="0.8"/>
<rect x="154.1" y="237.7" width="25.7" height="8.5" fill="url(#dots)" stroke="#444" stroke-width="0.6"/>
<rect x="154.1" y="246.8" width="25.1" height="18.2" rx="1" fill="url(#speck)" stroke="#111" stroke-width="1.1"/>
<rect x="150.7" y="265" width="31.3" height="12" fill="url(#honey)" stroke="#555" stroke-width="0.5"/>
<rect x="150.7" y="276.9" width="13.5" height="4.3" fill="#111"/>
<rect x="168.9" y="276.9" width="13.4" height="4.3" fill="#111"/>
<rect x="164.4" y="265" width="4.6" height="37.6" fill="url(#chain)" stroke="#444" stroke-width="0.5"/>
<rect x="164.2" y="302.5" width="4.7" height="5" fill="#111"/>
<line x1="182.4" y1="263" x2="182.4" y2="295.5" stroke="#555" stroke-width="0.7" />
<line x1="150.6" y1="259" x2="150.6" y2="295.5" stroke="#555" stroke-width="0.7" />
<line x1="117.3" y1="250.8" x2="117.3" y2="286" stroke="#555" stroke-width="0.7" />
<line x1="117.3" y1="276.5" x2="150.7" y2="276.5" stroke="#555" stroke-width="0.7" />
<line x1="110" y1="288.3" x2="194.9" y2="288.3" stroke="#555" stroke-width="0.7" />
<line x1="149.6" y1="295.5" x2="210" y2="295.5" stroke="#555" stroke-width="0.7" />
<text x="117.1" y="261.5" font-family="Liberation Sans" font-size="5.2" font-weight="bold" fill="#111" text-anchor="middle" textLength="18.5" lengthAdjust="spacingAndGlyphs" transform="rotate(-90 117.1 261.5)" >3.5±0.5</text>
<text x="147.6" y="281" font-family="Liberation Sans" font-size="5.2" font-weight="normal" fill="#111" text-anchor="middle" textLength="5" lengthAdjust="spacingAndGlyphs" >50</text>
<text x="183.8" y="280.3" font-family="Liberation Sans" font-size="4.5" font-weight="normal" fill="#111" text-anchor="start" >1</text>
<text x="126" y="287.6" font-family="Liberation Sans" font-size="5.2" font-weight="bold" fill="#111" text-anchor="start" textLength="19.4" lengthAdjust="spacingAndGlyphs" >0.5±0.1</text>
<text x="190.6" y="287.5" font-family="Liberation Sans" font-size="5" font-weight="normal" fill="#111" text-anchor="start" >6</text>
<text x="188.2" y="294.2" font-family="Liberation Sans" font-size="5.2" font-weight="bold" fill="#111" text-anchor="start" textLength="20.7" lengthAdjust="spacingAndGlyphs" >25.5±0.1</text>
<text x="160.6" y="306.7" font-family="Liberation Sans" font-size="4.5" font-weight="normal" fill="#111" text-anchor="start" >1</text>
<text x="171" y="306.7" font-family="Liberation Sans" font-size="4.5" font-weight="normal" fill="#111" text-anchor="start" >E</text>
<line x1="176.8" y1="299" x2="176.8" y2="333.8" stroke="#555" stroke-width="0.7" />
<rect x="168.9" y="302.5" width="7.5" height="5" stroke="#555" stroke-width="0.5" fill="none" />
<text x="176.4" y="322.6" font-family="Liberation Sans" font-size="5.2" font-weight="bold" fill="#111" text-anchor="middle" textLength="22" lengthAdjust="spacingAndGlyphs" transform="rotate(-90 176.4 322.6)" >3.5±0.5</text>
<line x1="337.4" y1="83.5" x2="380.6" y2="83.5" stroke="#555" stroke-width="0.7" />
<text x="357.4" y="82.4" font-family="Liberation Sans" font-size="5.2" font-weight="bold" fill="#111" text-anchor="start" textLength="22.6" lengthAdjust="spacingAndGlyphs" >7.05±0.4</text>
<line x1="337.4" y1="93" x2="387.7" y2="93" stroke="#555" stroke-width="0.7" />
<text x="352.2" y="91.5" font-family="Liberation Sans" font-size="5.2" font-weight="bold" fill="#111" text-anchor="start" textLength="34.8" lengthAdjust="spacingAndGlyphs" >3.0±0.2(Lens)</text>
<line x1="348.3" y1="100.3" x2="375.4" y2="100.3" stroke="#555" stroke-width="0.7" />
<text x="352.9" y="99.2" font-family="Liberation Sans" font-size="5.2" font-weight="bold" fill="#111" text-anchor="start" textLength="21.9" lengthAdjust="spacingAndGlyphs" >0.4(OCR)</text>
<line x1="352.2" y1="108.3" x2="381.9" y2="108.3" stroke="#555" stroke-width="0.7" />
<text x="358.7" y="106.5" font-family="Liberation Sans" font-size="5.2" font-weight="bold" fill="#111" text-anchor="start" textLength="21.9" lengthAdjust="spacingAndGlyphs" >3.1(LCM)</text>
<path d="M342.4,83.5 V234 Q342.4,236.7 345,236.7" fill="none" stroke="#333" stroke-width="0.8"/>
<line x1="345.6" y1="93" x2="345.6" y2="236.7" stroke="#444" stroke-width="0.7" />
<line x1="347.3" y1="100.3" x2="347.3" y2="236" stroke="#111" stroke-width="1.7" />
<line x1="347.8" y1="236" x2="347.8" y2="289" stroke="#222" stroke-width="1.0" />
<line x1="349.4" y1="129.6" x2="349.4" y2="224" stroke="#666" stroke-width="0.6" />
<path d="M351.6,83.5 V220 Q351.6,223.2 349.4,224.5" fill="none" stroke="#333" stroke-width="0.8"/>
<rect x="348.6" y="146" width="1.6" height="3.5" fill="#333"/>
<rect x="348.6" y="202.5" width="1.6" height="5.2" fill="#333"/>
<rect x="348.4" y="237" width="1.6" height="4" fill="#444"/>
<line x1="334.8" y1="101.6" x2="357" y2="121.5" stroke="#333" stroke-width="0.6" />
<path d="M332.6,119.2 Q346,128.5 358.8,116.8" fill="none" stroke="#333" stroke-width="0.6"/>
<path d="M334.6,99.5 Q336.5,103.8 341.8,104.6" fill="none" stroke="#333" stroke-width="0.5"/>
<text x="337.2" y="100.6" font-family="Liberation Sans" font-size="4.4" font-weight="bold" fill="#111" text-anchor="start" transform="rotate(58 337.2 100.6)" >45°</text>
<text x="333.6" y="120.6" font-family="Liberation Sans" font-size="4.4" font-weight="bold" fill="#111" text-anchor="start" transform="rotate(18 333.6 120.6)" >45°</text>
<text x="379.5" y="235.3" font-family="Liberation Sans" font-size="5.2" font-weight="bold" fill="#111" text-anchor="middle" textLength="20.3" lengthAdjust="spacingAndGlyphs" >2.1  Max</text>
<text x="354.3" y="241" font-family="Liberation Sans" font-size="5.2" font-weight="bold" fill="#111" text-anchor="start" textLength="50.8" lengthAdjust="spacingAndGlyphs" >(Component height)</text>
<line x1="341.8" y1="242.9" x2="405.7" y2="242.9" stroke="#555" stroke-width="0.7" />
<text x="314" y="248.5" font-family="Liberation Sans" font-size="5.2" font-weight="bold" fill="#111" text-anchor="middle" textLength="19.7" lengthAdjust="spacingAndGlyphs" >1.4  Max</text>
<text x="288.6" y="253.8" font-family="Liberation Sans" font-size="5.2" font-weight="bold" fill="#111" text-anchor="start" textLength="51.1" lengthAdjust="spacingAndGlyphs" >(Component height)</text>
<line x1="288" y1="256.1" x2="351.9" y2="256.1" stroke="#555" stroke-width="0.7" />
<rect x="344.4" y="246.3" width="2.6" height="18.5" stroke="#444" stroke-width="0.5" fill="none" />
<text x="341.7" y="273.5" font-family="Liberation Sans" font-size="5.2" font-weight="bold" fill="#111" text-anchor="end" textLength="24" lengthAdjust="spacingAndGlyphs" >Conductor</text>
<text x="356.4" y="273.5" font-family="Liberation Sans" font-size="5.2" font-weight="bold" fill="#111" text-anchor="start" textLength="21.5" lengthAdjust="spacingAndGlyphs" >Stiffener</text>
<path d="M342.5,271.5 Q346,272 347.3,279 M355.5,271.5 Q350,272 348.2,279" fill="none" stroke="#333" stroke-width="0.5"/>
<line x1="343.8" y1="288.5" x2="378" y2="288.5" stroke="#555" stroke-width="0.7" />
<text x="355" y="287" font-family="Liberation Sans" font-size="5.2" font-weight="bold" fill="#111" text-anchor="start" textLength="22.3" lengthAdjust="spacingAndGlyphs" >0.3±0.05</text>
<text x="339.7" y="300.5" font-family="Liberation Sans" font-size="5.2" font-weight="bold" fill="#111" text-anchor="end" textLength="21" lengthAdjust="spacingAndGlyphs" >Stiffener</text>
<text x="353.6" y="300.5" font-family="Liberation Sans" font-size="5.2" font-weight="bold" fill="#111" text-anchor="start" textLength="24" lengthAdjust="spacingAndGlyphs" >Conductor</text>
<path d="M340.5,298.5 Q345,299 346.3,306 M352.5,298.5 Q348,299 346.6,306" fill="none" stroke="#333" stroke-width="0.5"/>
<line x1="343" y1="317.1" x2="374.5" y2="317.1" stroke="#555" stroke-width="0.7" />
<text x="352.2" y="315.8" font-family="Liberation Sans" font-size="5.2" font-weight="bold" fill="#111" text-anchor="start" textLength="22.3" lengthAdjust="spacingAndGlyphs" >0.3±0.05</text>
<line x1="346.2" y1="236" x2="346.2" y2="318" stroke="#444" stroke-width="0.6" />
<path d="M413.2,111.1 H593.6 V237.4 H413.2 Z" fill="none" stroke="#222" stroke-width="1.2"/>
<rect x="403.4" y="113.2" width="9.8" height="12.7" stroke="#444" stroke-width="0.8" fill="none" />
<rect x="428.8" y="130.2" width="149.7" height="94.3" stroke="#111" stroke-width="1.3" fill="none" />
<line x1="428.6" y1="62" x2="428.6" y2="130.2" stroke="#555" stroke-width="0.7" />
<line x1="578.5" y1="62" x2="578.5" y2="295.2" stroke="#333" stroke-width="0.9" />
<line x1="428.6" y1="66.6" x2="613.3" y2="66.6" stroke="#555" stroke-width="0.7" />
<polygon points="428.6,66.6 430.8,65.89999999999999 430.8,67.3" fill="#333"/>
<polygon points="578.5,66.6 576.3,65.89999999999999 576.3,67.3" fill="#333"/>
<line x1="428.6" y1="80.1" x2="613.3" y2="80.1" stroke="#555" stroke-width="0.7" />
<polygon points="428.6,80.1 430.8,79.39999999999999 430.8,80.8" fill="#333"/>
<polygon points="578.5,80.1 576.3,79.39999999999999 576.3,80.8" fill="#333"/>
<line x1="593.6" y1="65" x2="593.6" y2="111.1" stroke="#555" stroke-width="0.7" />
<text x="503.6" y="63.8" font-family="Liberation Sans" font-size="5.2" font-weight="bold" fill="#111" text-anchor="middle" textLength="44.5" lengthAdjust="spacingAndGlyphs" >121.0(Frame  0.0)</text>
<text x="503.6" y="77.6" font-family="Liberation Sans" font-size="5.2" font-weight="bold" fill="#111" text-anchor="middle" textLength="46" lengthAdjust="spacingAndGlyphs" >120.6(Sensor  0.0)</text>
<text x="598.7" y="64.8" font-family="Liberation Sans" font-size="5.2" font-weight="bold" fill="#111" text-anchor="start" textLength="14.6" lengthAdjust="spacingAndGlyphs" >12.13</text>
<text x="598.7" y="78.6" font-family="Liberation Sans" font-size="5.2" font-weight="bold" fill="#111" text-anchor="start" textLength="14.6" lengthAdjust="spacingAndGlyphs" >12.33</text>
<line x1="593.6" y1="111.1" x2="625" y2="111.1" stroke="#555" stroke-width="0.7" />
<line x1="578.5" y1="130.2" x2="625" y2="130.2" stroke="#555" stroke-width="0.7" />
<line x1="578.5" y1="224.4" x2="624.3" y2="224.4" stroke="#555" stroke-width="0.7" />
<line x1="610.4" y1="85" x2="610.4" y2="306.8" stroke="#555" stroke-width="0.7" />
<line x1="624.3" y1="85" x2="624.3" y2="224.4" stroke="#555" stroke-width="0.7" />
<text x="609.9" y="91.8" font-family="Liberation Sans" font-size="5.6" font-weight="bold" fill="#111" text-anchor="middle" textLength="13.7" lengthAdjust="spacingAndGlyphs" transform="rotate(-90 609.9 91.8)" >15.54</text>
<text x="623.4" y="91.8" font-family="Liberation Sans" font-size="5.6" font-weight="bold" fill="#111" text-anchor="middle" textLength="13.7" lengthAdjust="spacingAndGlyphs" transform="rotate(-90 623.4 91.8)" >15.54</text>
<text x="608.2" y="176.4" font-family="Liberation Sans" font-size="5.2" font-weight="bold" fill="#111" text-anchor="middle" textLength="44.8" lengthAdjust="spacingAndGlyphs" transform="rotate(-90 608.2 176.4)" >75.9(Frame  0.0)</text>
<text x="622.6" y="177.5" font-family="Liberation Sans" font-size="5.2" font-weight="bold" fill="#111" text-anchor="middle" textLength="50.2" lengthAdjust="spacingAndGlyphs" transform="rotate(-90 622.6 177.5)" >(76.6  Sensor  0.0)</text>
<text x="609.4" y="265.6" font-family="Liberation Sans" font-size="5.2" font-weight="bold" fill="#111" text-anchor="middle" textLength="25.8" lengthAdjust="spacingAndGlyphs" transform="rotate(-90 609.4 265.6)" >67.36±1.0</text>
<rect x="484.5" y="223.9" width="38.6" height="8.8" fill="url(#conn)" stroke="#333" stroke-width="0.6"/>
<rect x="535.2" y="223" width="3.2" height="9.7" stroke="#444" stroke-width="0.6" fill="none" />
<rect x="483.7" y="233.5" width="62" height="25" rx="1.5" fill="url(#woven)" stroke="#111" stroke-width="0.9"/>
<line x1="540" y1="233.5" x2="540" y2="258.5" stroke="#222" stroke-width="0.6" />
<line x1="488" y1="233.5" x2="488" y2="258.5" stroke="#222" stroke-width="0.6" />
<rect x="486.9" y="258.5" width="32.2" height="16.1" fill="url(#honey2)" stroke="#444" stroke-width="0.5"/>
<rect x="486.9" y="274.6" width="32.2" height="6.4" fill="url(#finger)" stroke="#222" stroke-width="0.5"/>
<rect x="479.2" y="275.2" width="7.7" height="6" stroke="#444" stroke-width="0.5" fill="none" />
<text x="482.2" y="280.4" font-family="Liberation Sans" font-size="4.6" font-weight="bold" fill="#111" text-anchor="start" >1</text>
<text x="523.1" y="280.5" font-family="Liberation Sans" font-size="5" font-weight="normal" fill="#111" text-anchor="start" textLength="5.7" lengthAdjust="spacingAndGlyphs" >50</text>
<rect x="500.5" y="281" width="4.6" height="23.8" fill="url(#chain)" stroke="#333" stroke-width="0.5"/>
<rect x="500.4" y="304.7" width="4.7" height="3.1" fill="#111"/>
<line x1="500.6" y1="307.8" x2="500.6" y2="324.5" stroke="#333" stroke-width="0.7" />
<line x1="504.9" y1="307.8" x2="504.9" y2="324.5" stroke="#333" stroke-width="0.7" />
<line x1="507" y1="295.2" x2="578.5" y2="295.2" stroke="#555" stroke-width="0.7" />
<text x="529.3" y="294.2" font-family="Liberation Sans" font-size="5.2" font-weight="bold" fill="#111" text-anchor="start" textLength="25.5" lengthAdjust="spacingAndGlyphs" >59.15±1.0</text>
<line x1="505.6" y1="307.8" x2="610.4" y2="307.8" stroke="#555" stroke-width="0.7" />
<line x1="497" y1="312.8" x2="530" y2="312.8" stroke="#444" stroke-width="0.5" />
<line x1="497" y1="318.2" x2="506" y2="318.2" stroke="#444" stroke-width="0.5" />
<text x="511.1" y="312.3" font-family="Liberation Sans" font-size="5.2" font-weight="bold" fill="#111" text-anchor="start" textLength="18.9" lengthAdjust="spacingAndGlyphs" >0.5±0.1</text>
<text x="511.1" y="318" font-family="Liberation Sans" font-size="4.5" font-weight="bold" fill="#111" text-anchor="start" >b</text>
<line x1="497" y1="324.5" x2="530" y2="324.5" stroke="#444" stroke-width="0.5" />
<text x="511.1" y="323.2" font-family="Liberation Sans" font-size="5.2" font-weight="bold" fill="#111" text-anchor="start" textLength="18.9" lengthAdjust="spacingAndGlyphs" >3.5±0.1</text>
<line x1="479.4" y1="270.6" x2="479.4" y2="307.5" stroke="#555" stroke-width="0.7" />
<line x1="476" y1="271" x2="486.9" y2="271" stroke="#555" stroke-width="0.5" />
<text x="478.6" y="297" font-family="Liberation Sans" font-size="5.2" font-weight="bold" fill="#111" text-anchor="middle" textLength="18.8" lengthAdjust="spacingAndGlyphs" transform="rotate(-90 478.6 297)" >5.0±0.5</text>
<line x1="491.6" y1="299.4" x2="491.6" y2="336.4" stroke="#555" stroke-width="0.7" />
<line x1="491.6" y1="302.6" x2="500.4" y2="302.6" stroke="#555" stroke-width="0.5" />
<line x1="491.6" y1="307.8" x2="500.4" y2="307.8" stroke="#555" stroke-width="0.5" />
<text x="497.2" y="306.6" font-family="Liberation Sans" font-size="4.2" font-weight="bold" fill="#111" text-anchor="middle" >a</text>
<text x="507.7" y="306.6" font-family="Liberation Sans" font-size="4.2" font-weight="bold" fill="#111" text-anchor="start" >1</text>
<text x="490.6" y="323.2" font-family="Liberation Sans" font-size="5.2" font-weight="bold" fill="#111" text-anchor="middle" textLength="20.9" lengthAdjust="spacingAndGlyphs" transform="rotate(-90 490.6 323.2)" >2.5±0.3</text>
<text x="615.6" y="335.8" font-family="Liberation Sans" font-size="5.2" font-weight="normal" fill="#111" text-anchor="start" textLength="14.2" lengthAdjust="spacingAndGlyphs" >0.135</text>
<line x1="614.5" y1="335.6" x2="632.5" y2="335.6" stroke="#333" stroke-width="0.6" />
<line x1="614.5" y1="335.6" x2="614.5" y2="361.6" stroke="#333" stroke-width="0.7" />
<line x1="620.4" y1="345" x2="620.4" y2="361.6" stroke="#333" stroke-width="0.7" />
<line x1="625.4" y1="345" x2="625.4" y2="361.6" stroke="#333" stroke-width="0.7" />
<line x1="632.5" y1="335.6" x2="632.5" y2="361.6" stroke="#333" stroke-width="0.7" />
<line x1="606" y1="345" x2="632.5" y2="345" stroke="#333" stroke-width="0.6" />
<line x1="606" y1="361.6" x2="632.5" y2="361.6" stroke="#333" stroke-width="0.6" />
<line x1="606.3" y1="345" x2="606.3" y2="361.6" stroke="#666" stroke-width="0.5" />
<text x="605.6" y="353.6" font-family="Liberation Sans" font-size="5.2" font-weight="normal" fill="#111" text-anchor="middle" textLength="13.6" lengthAdjust="spacingAndGlyphs" transform="rotate(-90 605.6 353.6)" >0.135</text>
<text x="617.4" y="355.6" font-family="Liberation Sans" font-size="5" font-weight="normal" fill="#777" text-anchor="middle" >R</text>
<text x="622.9" y="355.6" font-family="Liberation Sans" font-size="5" font-weight="normal" fill="#777" text-anchor="middle" >C</text>
<text x="629" y="355.6" font-family="Liberation Sans" font-size="5" font-weight="normal" fill="#777" text-anchor="middle" >D</text>
<text x="616.2" y="368.1" font-family="Liberation Sans" font-size="5.2" font-weight="bold" fill="#111" text-anchor="middle" textLength="13" lengthAdjust="spacingAndGlyphs" >Detail</text>
<text x="616.2" y="373.5" font-family="Liberation Sans" font-size="5.2" font-weight="bold" fill="#111" text-anchor="middle" textLength="13" lengthAdjust="spacingAndGlyphs" >Scale</text>
<text x="631" y="368.1" font-family="Liberation Sans" font-size="5.2" font-weight="bold" fill="#111" text-anchor="middle" textLength="9.5" lengthAdjust="spacingAndGlyphs" >Date</text>
<text x="630.6" y="373.5" font-family="Liberation Sans" font-size="5.2" font-weight="bold" fill="#111" text-anchor="middle" textLength="11.3" lengthAdjust="spacingAndGlyphs" >100X</text>
<text x="23.4" y="321.6" font-family="Liberation Sans" font-size="6.0" font-weight="bold" fill="#111" text-anchor="start" textLength="18.1" lengthAdjust="spacingAndGlyphs" xml:space="preserve">NOTES:</text>
<text x="29.7" y="327.5" font-family="Liberation Sans" font-size="6.0" font-weight="bold" fill="#111" text-anchor="start" textLength="54.8" lengthAdjust="spacingAndGlyphs" xml:space="preserve">1.LCD TYPE:TFT LCD</text>
<text x="29.4" y="333.3" font-family="Liberation Sans" font-size="6.0" font-weight="bold" fill="#111" text-anchor="start" textLength="125.0" lengthAdjust="spacingAndGlyphs" xml:space="preserve">2.LCD DISPLAY:Normally Black/TRANSMISSIVE</text>
<text x="29.4" y="339.2" font-family="Liberation Sans" font-size="6.0" font-weight="bold" fill="#111" text-anchor="start" textLength="118.69999999999999" lengthAdjust="spacingAndGlyphs" xml:space="preserve">3.The tolerance unless classified ±0.3mm</text>
<text x="29.4" y="345.3" font-family="Liberation Sans" font-size="6.0" font-weight="bold" fill="#111" text-anchor="start" textLength="113.29999999999998" lengthAdjust="spacingAndGlyphs" xml:space="preserve">4.a :P0.5*49=24.5±0.05 ; W=0.35±0.05</text>
<text x="34.4" y="351.3" font-family="Liberation Sans" font-size="6.0" font-weight="bold" fill="#111" text-anchor="start" textLength="101.6" lengthAdjust="spacingAndGlyphs" xml:space="preserve">b :P0.5*5=2.5±0.05 ; W=0.35±0.05</text>
<text x="29.4" y="357.8" font-family="Liberation Sans" font-size="6.0" font-weight="bold" fill="#111" text-anchor="start" textLength="5.600000000000001" lengthAdjust="spacingAndGlyphs" xml:space="preserve">5.</text>
<rect x="35.7" y="354" width="10.8" height="4.1" stroke="#222" stroke-width="0.7" fill="none" />
<path d="M38,354.5 V357.5 H44 V354.5" fill="none" stroke="#444" stroke-width="0.4"/>
<text x="46.5" y="357.8" font-family="Liberation Sans" font-size="6.0" font-weight="bold" fill="#111" text-anchor="start" textLength="39.400000000000006" lengthAdjust="spacingAndGlyphs" xml:space="preserve">:Kapton tape;</text>
<rect x="95.4" y="353.6" width="9.6" height="4.5" fill="url(#woven)" stroke="#222" stroke-width="0.6"/>
<text x="105" y="357.8" font-family="Liberation Sans" font-size="6.0" font-weight="bold" fill="#111" text-anchor="start" textLength="59.599999999999994" lengthAdjust="spacingAndGlyphs" xml:space="preserve">:Component area;</text>
<rect x="166.1" y="353.6" width="10.2" height="4.5" fill="url(#granite)" stroke="#222" stroke-width="0.6"/>
<text x="176.6" y="357.8" font-family="Liberation Sans" font-size="6.0" font-weight="bold" fill="#111" text-anchor="start" textLength="104.4" lengthAdjust="spacingAndGlyphs" xml:space="preserve">:Stiffener(SUS t=0.2mm to GND)</text>
<rect x="36" y="360" width="10.5" height="4.5" fill="#222"/>
<path d="M37,364.3 L39.5,360.3 M40,364.3 L42.5,360.3 M43,364.3 L45.5,360.3" stroke="#ddd" stroke-width="0.7"/>
<text x="46.5" y="364.3" font-family="Liberation Sans" font-size="6.0" font-weight="bold" fill="#111" text-anchor="start" textLength="121.69999999999999" lengthAdjust="spacingAndGlyphs" xml:space="preserve">:Aluminum Foil Conductive Adhesive Tape;</text>
<rect x="169.1" y="360" width="8.9" height="4.5" fill="url(#conn)" stroke="#222" stroke-width="0.6"/>
<text x="178" y="364.3" font-family="Liberation Sans" font-size="6.0" font-weight="bold" fill="#111" text-anchor="start" textLength="29.900000000000006" lengthAdjust="spacingAndGlyphs" xml:space="preserve">:EMI Film;</text>
<text x="28.6" y="370.5" font-family="Liberation Sans" font-size="6.0" font-weight="bold" fill="#111" text-anchor="start" textLength="219.6" lengthAdjust="spacingAndGlyphs" xml:space="preserve">6.LCM FPC suggested connector : "Hirose" FH12A-50S-0.5SH or compatible.</text>
<text x="28.6" y="376.7" font-family="Liberation Sans" font-size="6.0" font-weight="bold" fill="#111" text-anchor="start" textLength="236.00000000000003" lengthAdjust="spacingAndGlyphs" xml:space="preserve">6.T/P FPC suggested connector : "Hirose" FH34SRJ-6S-0.5SH(50) or compatible.</text>
</svg>
</body></html>
